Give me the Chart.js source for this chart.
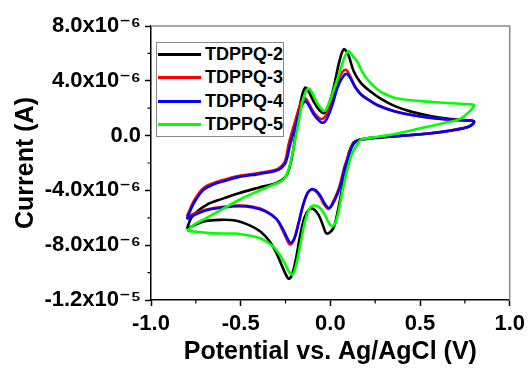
<!DOCTYPE html>
<html>
<head>
<meta charset="utf-8">
<script src="https://cdn.jsdelivr.net/npm/chart.js@4.4.0/dist/chart.umd.min.js"></script>
<style>
html,body{margin:0;padding:0;background:#fff;}
#wrap{position:relative;width:530px;height:370px;}
#legend{position:absolute;left:156px;top:42px;width:126px;border:1px solid #8a8a8a;background:#fff;
  font:bold 18px "Liberation Sans",Arial,sans-serif;color:#000;}
.row{display:flex;align-items:center;height:23.3px;white-space:nowrap;}
.sw{display:inline-block;width:44px;height:3px;margin-left:1px;margin-right:4px;}
</style>
</head>
<body>
<div id="wrap">
<canvas id="c" width="530" height="370"></canvas>
<div id="legend"></div>
</div>
<script>
// ---- data (potential in V, current in A) ----
const seriesNames = ['TDPPQ-2', 'TDPPQ-3', 'TDPPQ-4', 'TDPPQ-5'];
const seriesColors = ['#000000', '#ff0000', '#0000ff', '#00ff00'];

const potentialTDPPQ2 = [-0.80,-0.77,-0.69,-0.60,-0.51,-0.40,-0.30,-0.25,-0.225,-0.205,-0.18,-0.16,-0.14,-0.12,-0.09,-0.06,-0.035,-0.01,0.02,0.05,0.075,0.10,0.13,0.17,0.22,0.28,0.36,0.45,0.55,0.65,0.75,0.80,
  0.795,0.77,0.70,0.60,0.45,0.33,0.25,0.18,0.15,0.13,0.115,0.10,0.09,0.075,0.055,0.035,0.015,-0.02,-0.04,-0.065,-0.095,-0.12,-0.145,-0.17,-0.195,-0.215,-0.232,-0.25,-0.27,-0.30,-0.34,-0.39,-0.45,-0.53,-0.62,-0.70,-0.76,-0.80];
const currentTDPPQ2 = [-6.8e-6,-5.9e-6,-5.05e-6,-4.6e-6,-4.2e-6,-3.8e-6,-3.45e-6,-3.0e-6,-2.2e-6,-0.9e-6,1.4e-6,2.8e-6,3.5e-6,3.2e-6,2.4e-6,1.85e-6,1.65e-6,2.2e-6,3.6e-6,5.4e-6,6.3e-6,5.9e-6,4.7e-6,3.85e-6,3.25e-6,2.7e-6,2.15e-6,1.75e-6,1.45e-6,1.25e-6,1.13e-6,1.05e-6,
  0.85e-6,0.65e-6,0.45e-6,0.25e-6,0.04e-6,-0.08e-6,-0.18e-6,-0.27e-6,-0.35e-6,-0.5e-6,-0.85e-6,-1.4e-6,-2.1e-6,-3.2e-6,-4.6e-6,-5.9e-6,-6.8e-6,-7.15e-6,-6.6e-6,-5.8e-6,-5.35e-6,-5.4e-6,-6.0e-6,-7.4e-6,-9.2e-6,-10.2e-6,-10.45e-6,-10.1e-6,-9.5e-6,-8.6e-6,-7.7e-6,-7.0e-6,-6.55e-6,-6.2e-6,-6.15e-6,-6.25e-6,-6.55e-6,-6.8e-6];

const potentialTDPPQ3 = [-0.80,-0.785,-0.76,-0.71,-0.65,-0.60,-0.52,-0.435,-0.35,-0.29,-0.258,-0.244,-0.232,-0.195,-0.17,-0.145,-0.125,-0.095,-0.065,-0.045,-0.025,0.005,0.035,0.065,0.088,0.11,0.135,0.17,0.215,0.26,0.35,0.45,0.55,0.633,0.72,0.78,0.80,
  0.795,0.77,0.70,0.633,0.55,0.45,0.35,0.265,0.20,0.152,0.127,0.112,0.097,0.078,0.05,0.022,-0.01,-0.034,-0.058,-0.083,-0.106,-0.128,-0.153,-0.18,-0.203,-0.225,-0.247,-0.272,-0.30,-0.36,-0.43,-0.51,-0.60,-0.69,-0.75,-0.80];
const currentTDPPQ3 = [-5.9e-6,-5.45e-6,-4.75e-6,-3.85e-6,-3.45e-6,-3.25e-6,-2.97e-6,-2.8e-6,-2.62e-6,-2.42e-6,-2.0e-6,-1.45e-6,-0.6e-6,1.1e-6,2.2e-6,2.75e-6,2.45e-6,1.75e-6,1.3e-6,1.22e-6,1.45e-6,2.45e-6,3.75e-6,4.6e-6,4.8e-6,4.35e-6,3.65e-6,3.05e-6,2.6e-6,2.25e-6,1.82e-6,1.52e-6,1.32e-6,1.2e-6,1.13e-6,1.1e-6,1.02e-6,
  0.85e-6,0.65e-6,0.42e-6,0.28e-6,0.15e-6,0.04e-6,-0.06e-6,-0.13e-6,-0.22e-6,-0.35e-6,-0.6e-6,-1.0e-6,-1.6e-6,-2.3e-6,-3.75e-6,-4.65e-6,-5.35e-6,-5.05e-6,-4.45e-6,-4.05e-6,-3.95e-6,-4.2e-6,-5.1e-6,-6.5e-6,-7.6e-6,-7.95e-6,-7.45e-6,-6.75e-6,-6.1e-6,-5.5e-6,-5.2e-6,-5.1e-6,-5.2e-6,-5.4e-6,-5.65e-6,-5.9e-6];

const potentialTDPPQ4 = [-0.80,-0.785,-0.76,-0.71,-0.65,-0.60,-0.52,-0.435,-0.35,-0.29,-0.255,-0.24,-0.227,-0.19,-0.165,-0.14,-0.12,-0.09,-0.06,-0.04,-0.02,0.01,0.04,0.07,0.093,0.115,0.14,0.175,0.22,0.265,0.35,0.45,0.55,0.633,0.72,0.78,0.80,
  0.795,0.77,0.70,0.633,0.55,0.45,0.35,0.265,0.20,0.155,0.13,0.115,0.10,0.082,0.054,0.026,-0.006,-0.03,-0.055,-0.08,-0.103,-0.125,-0.15,-0.177,-0.20,-0.223,-0.245,-0.27,-0.30,-0.36,-0.43,-0.51,-0.60,-0.69,-0.75,-0.80];
const currentTDPPQ4 = [-6.1e-6,-5.6e-6,-4.9e-6,-4.0e-6,-3.55e-6,-3.35e-6,-3.05e-6,-2.88e-6,-2.7e-6,-2.5e-6,-2.1e-6,-1.6e-6,-0.8e-6,0.9e-6,2.0e-6,2.5e-6,2.2e-6,1.5e-6,1.05e-6,0.94e-6,1.2e-6,2.2e-6,3.5e-6,4.3e-6,4.5e-6,4.1e-6,3.5e-6,2.95e-6,2.55e-6,2.2e-6,1.8e-6,1.5e-6,1.3e-6,1.19e-6,1.12e-6,1.1e-6,1.02e-6,
  0.85e-6,0.65e-6,0.42e-6,0.28e-6,0.15e-6,0.04e-6,-0.06e-6,-0.13e-6,-0.22e-6,-0.35e-6,-0.6e-6,-1.0e-6,-1.6e-6,-2.3e-6,-3.75e-6,-4.65e-6,-5.3e-6,-5.0e-6,-4.4e-6,-4.0e-6,-3.9e-6,-4.15e-6,-5.0e-6,-6.4e-6,-7.5e-6,-7.82e-6,-7.35e-6,-6.7e-6,-6.1e-6,-5.55e-6,-5.25e-6,-5.15e-6,-5.25e-6,-5.45e-6,-5.75e-6,-6.1e-6];

const potentialTDPPQ5 = [-0.80,-0.76,-0.69,-0.60,-0.51,-0.42,-0.33,-0.27,-0.245,-0.223,-0.205,-0.189,-0.17,-0.152,-0.135,-0.118,-0.10,-0.075,-0.05,-0.03,-0.01,0.015,0.035,0.06,0.085,0.105,0.125,0.15,0.18,0.22,0.265,0.31,0.36,0.45,0.54,0.63,0.72,0.80,
  0.795,0.775,0.72,0.633,0.54,0.45,0.36,0.265,0.20,0.17,0.148,0.125,0.11,0.09,0.073,0.058,0.045,0.03,0.015,-0.005,-0.03,-0.06,-0.09,-0.115,-0.14,-0.165,-0.19,-0.21,-0.23,-0.255,-0.287,-0.32,-0.36,-0.40,-0.45,-0.53,-0.60,-0.69,-0.76,-0.80];
const currentTDPPQ5 = [-6.95e-6,-6.5e-6,-6.0e-6,-5.35e-6,-4.7e-6,-4.15e-6,-3.65e-6,-3.3e-6,-2.9e-6,-2.0e-6,-0.9e-6,0.2e-6,1.5e-6,2.65e-6,3.25e-6,3.42e-6,3.1e-6,2.4e-6,1.95e-6,1.8e-6,2.3e-6,3.2e-6,3.95e-6,5.0e-6,5.9e-6,6.15e-6,5.8e-6,5.4e-6,4.6e-6,3.9e-6,3.35e-6,3.0e-6,2.75e-6,2.58e-6,2.48e-6,2.4e-6,2.32e-6,2.25e-6,
  2.05e-6,1.75e-6,1.2e-6,0.92e-6,0.65e-6,0.38e-6,0.12e-6,-0.08e-6,-0.2e-6,-0.3e-6,-0.7e-6,-1.2e-6,-1.75e-6,-2.7e-6,-3.7e-6,-4.7e-6,-5.6e-6,-6.3e-6,-6.6e-6,-6.45e-6,-5.8e-6,-5.25e-6,-5.1e-6,-5.3e-6,-6.2e-6,-7.8e-6,-9.4e-6,-10.15e-6,-9.95e-6,-9.3e-6,-8.6e-6,-8.1e-6,-7.7e-6,-7.45e-6,-7.3e-6,-7.15e-6,-7.15e-6,-7.1e-6,-7.0e-6,-6.95e-6];

const xTickValues = [-1, -0.75, -0.5, -0.25, 0, 0.25, 0.5, 0.75, 1];
const xTickLabels = ['-1.0', '', '-0.5', '', '0.0', '', '0.5', '', '1.0'];
const yTickValues = [-12e-6, -10e-6, -8e-6, -6e-6, -4e-6, -2e-6, 0, 2e-6, 4e-6, 6e-6, 8e-6];
const yTickLabels = ['-1.2x10\u207B\u2075', '', '-8.0x10\u207B\u2076', '', '-4.0x10\u207B\u2076', '', '0.0', '', '4.0x10\u207B\u2076', '', '8.0x10\u207B\u2076'];

const potentials = [potentialTDPPQ2, potentialTDPPQ3, potentialTDPPQ4, potentialTDPPQ5];
const currents = [currentTDPPQ2, currentTDPPQ3, currentTDPPQ4, currentTDPPQ5];

// ---- chart ----
const FONT = '"Liberation Sans", "DejaVu Sans", Arial, sans-serif';
Chart.defaults.font.family = FONT;
Chart.defaults.color = '#000';

const datasets = seriesNames.map((name, i) => ({
  label: name,
  data: potentials[i].map((p, k) => ({ x: p, y: currents[i][k] })),
  showLine: true,
  borderColor: seriesColors[i],
  backgroundColor: seriesColors[i],
  borderWidth: 2.6,
  pointRadius: 0,
  tension: 0.35,
  fill: false,
  order: seriesNames.length - i
}));

const tickFont = { family: FONT, size: 22, weight: 'bold' };
const titleFont = { family: FONT, size: 25, weight: 'bold' };

const frameAndMinorTicks = {
  id: 'frameAndMinorTicks',
  afterDraw(chart) {
    const { ctx, chartArea: a, scales } = chart;
    ctx.save();
    ctx.strokeStyle = '#8a8a8a';
    ctx.lineWidth = 1.5;
    ctx.beginPath();
    ctx.moveTo(a.left, a.top);
    ctx.lineTo(a.right, a.top);
    ctx.lineTo(a.right, a.bottom);
    ctx.stroke();
    ctx.strokeStyle = '#000';
    ctx.lineWidth = 1.2;
    ctx.beginPath();
    xTickValues.forEach((v, i) => {
      if (xTickLabels[i] !== '') return;
      const px = scales.x.getPixelForValue(v);
      ctx.moveTo(px, a.bottom);
      ctx.lineTo(px, a.bottom + 3.5);
    });
    yTickValues.forEach((v, i) => {
      if (yTickLabels[i] !== '') return;
      const py = scales.y.getPixelForValue(v);
      ctx.moveTo(a.left, py);
      ctx.lineTo(a.left - 3.5, py);
    });
    ctx.stroke();
    ctx.restore();
  }
};

const chart = new Chart(document.getElementById('c'), {
  type: 'scatter',
  data: { datasets },
  options: {
    responsive: false,
    animation: false,
    devicePixelRatio: 1,
    layout: { padding: { left: 0, right: 17, top: 26, bottom: 0 } },
    plugins: { legend: { display: false }, tooltip: { enabled: false } },
    scales: {
      x: {
        type: 'linear', min: -1, max: 1, position: 'bottom',
        afterBuildTicks: s => { s.ticks = xTickValues.map(v => ({ value: v })); },
        afterFit: s => { s.height = 70; },
        ticks: { autoSkip: false, maxRotation: 0, padding: 5, color: '#000', font: tickFont,
          callback: (v, i) => xTickLabels[i] },
        grid: { display: true, drawOnChartArea: false, drawTicks: true, tickLength: 6,
          tickColor: c => (xTickLabels[c.index] === '' ? 'rgba(0,0,0,0)' : '#000'), tickWidth: 1.5 },
        border: { display: true, color: '#000', width: 1.5 },
        title: { display: true, text: 'Potential vs. Ag/AgCl (V)', color: '#000', font: titleFont,
          padding: { top: 0, bottom: 3 } }
      },
      y: {
        type: 'linear', min: -12e-6, max: 8e-6, position: 'left',
        afterBuildTicks: s => { s.ticks = yTickValues.map(v => ({ value: v })); },
        afterFit: s => { s.width = 151; },
        ticks: { autoSkip: false, padding: 4, color: '#000', font: tickFont,
          callback: (v, i) => yTickLabels[i] },
        grid: { display: true, drawOnChartArea: false, drawTicks: true, tickLength: 6,
          tickColor: c => (yTickLabels[c.index] === '' ? 'rgba(0,0,0,0)' : '#000'), tickWidth: 1.5 },
        border: { display: true, color: '#000', width: 1.5 },
        title: { display: true, text: 'Current (A)', color: '#000', font: titleFont,
          padding: { top: 11, bottom: 0 } }
      }
    }
  },
  plugins: [frameAndMinorTicks]
});

// ---- legend (HTML, built from the chart's datasets) ----
const legendEl = document.getElementById('legend');
chart.data.datasets.forEach(ds => {
  const row = document.createElement('div');
  row.className = 'row';
  const sw = document.createElement('span');
  sw.className = 'sw';
  sw.style.background = ds.borderColor;
  const tx = document.createElement('span');
  tx.textContent = ds.label;
  row.appendChild(sw);
  row.appendChild(tx);
  legendEl.appendChild(row);
});
</script>
</body>
</html>
